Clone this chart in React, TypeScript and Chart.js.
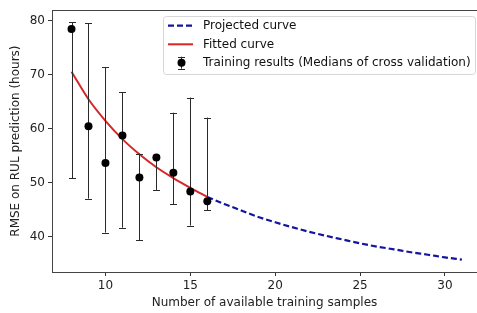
import React, { useEffect, useRef } from "react";
import { Chart, registerables } from "chart.js";

Chart.register(...registerables);

// ---- data ----
const trainX = [8, 9, 10, 11, 12, 13, 14, 15, 16];
const trainMedian = [78.5, 60.5, 53.7, 58.8, 51.0, 54.7, 51.9, 48.4, 46.6];
const trainLower = [50.9, 47.1, 40.8, 41.7, 39.4, 48.7, 46.0, 42.1, 44.9];
const trainUpper = [79.8, 79.6, 71.4, 66.8, 55.4, 55.2, 63.0, 65.8, 62.1];

const fittedX = [8, 9, 10, 11, 12, 13, 14, 15, 16];
const fittedY = [70.6, 65.5, 61.5, 58.1, 55.3, 52.9, 50.9, 49.1, 47.4];

const projectedX = [16, 17, 18, 19, 20, 21, 22, 23, 24, 25, 26, 27, 28, 29, 30, 31];
const projectedY = [47.4, 46.1, 44.9, 43.7, 42.7, 41.8, 40.95, 40.2, 39.5, 38.8, 38.2, 37.7, 37.15, 36.7, 36.2, 35.8];

const xTicks = [10, 15, 20, 25, 30];
const yTicks = [40, 50, 60, 70, 80];

const labels = {
  projected: "Projected curve",
  fitted: "Fitted curve",
  training: "Training results (Medians of cross validation)",
  xTitle: "Number of available training samples",
  yTitle: "RMSE on RUL prediction (hours)",
};

const FONT = "'DejaVu Sans', sans-serif";
const BLUE = "#14149e";
const RED = "#d62728";
const BAR = "#2a2a2a";

const errorBarPlugin = {
  id: "errorBars",
  beforeDatasetDraw(chart: any, args: any) {
    if (args.index !== 2) return;
    const { ctx, scales } = chart;
    const xs = scales.x;
    const ys = scales.y;
    ctx.save();
    ctx.strokeStyle = BAR;
    ctx.lineWidth = 1;
    for (let i = 0; i < trainX.length; i++) {
      const px = Math.round(xs.getPixelForValue(trainX[i])) + 0.5;
      const yl = ys.getPixelForValue(trainLower[i]);
      const yu = ys.getPixelForValue(trainUpper[i]);
      ctx.beginPath();
      ctx.moveTo(px, yl);
      ctx.lineTo(px, yu);
      ctx.moveTo(px - 3.5, Math.round(yl) + 0.5);
      ctx.lineTo(px + 3.5, Math.round(yl) + 0.5);
      ctx.moveTo(px - 3.5, Math.round(yu) + 0.5);
      ctx.lineTo(px + 3.5, Math.round(yu) + 0.5);
      ctx.stroke();
    }
    ctx.restore();
  },
};

const framePlugin = {
  id: "frame",
  afterDraw(chart: any) {
    const { ctx, chartArea } = chart;
    ctx.save();
    ctx.strokeStyle = "#444";
    ctx.lineWidth = 1;
    ctx.beginPath();
    ctx.moveTo(chartArea.left, Math.round(chartArea.top) + 0.5);
    ctx.lineTo(chartArea.right, Math.round(chartArea.top) + 0.5);
    ctx.stroke();
    ctx.restore();
  },
};

const legendPlugin = {
  id: "boxLegend",
  afterDraw(chart: any) {
    const { ctx } = chart;
    const ds = chart.data.datasets;
    const left = 163.5, top = 16.5, right = 475.5, bottom = 74.5;
    ctx.save();
    ctx.beginPath();
    const r = 3;
    ctx.moveTo(left + r, top);
    ctx.lineTo(right - r, top);
    ctx.quadraticCurveTo(right, top, right, top + r);
    ctx.lineTo(right, bottom - r);
    ctx.quadraticCurveTo(right, bottom, right - r, bottom);
    ctx.lineTo(left + r, bottom);
    ctx.quadraticCurveTo(left, bottom, left, bottom - r);
    ctx.lineTo(left, top + r);
    ctx.quadraticCurveTo(left, top, left + r, top);
    ctx.closePath();
    ctx.fillStyle = "rgba(255,255,255,0.8)";
    ctx.fill();
    ctx.strokeStyle = "#d6d6d6";
    ctx.lineWidth = 1;
    ctx.stroke();

    const rows = [25.7, 44.3, 62.7];
    const x0 = 168, x1 = 193, tx = 203;
    ctx.font = `12px ${FONT}`;
    ctx.textBaseline = "middle";
    ctx.textAlign = "left";
    ds.forEach((d: any, i: number) => {
      const y = rows[i];
      if (i < 2) {
        ctx.beginPath();
        ctx.strokeStyle = d.borderColor;
        ctx.lineWidth = d.borderWidth;
        ctx.setLineDash(d.borderDash || []);
        ctx.moveTo(x0, y);
        ctx.lineTo(x1, y);
        ctx.stroke();
        ctx.setLineDash([]);
      } else {
        const cx = 181.5;
        ctx.beginPath();
        ctx.strokeStyle = BAR;
        ctx.lineWidth = 1;
        ctx.moveTo(cx, y - 6);
        ctx.lineTo(cx, y + 6);
        ctx.moveTo(cx - 3.5, Math.round(y - 6) + 0.5);
        ctx.lineTo(cx + 3.5, Math.round(y - 6) + 0.5);
        ctx.moveTo(cx - 3.5, Math.round(y + 6) + 0.5);
        ctx.lineTo(cx + 3.5, Math.round(y + 6) + 0.5);
        ctx.stroke();
        ctx.beginPath();
        ctx.fillStyle = "#000";
        ctx.arc(cx, y, 4, 0, Math.PI * 2);
        ctx.fill();
      }
      ctx.fillStyle = "#111";
      ctx.fillText(d.label, tx, y + 0.5);
    });
    ctx.restore();
  },
};

export default function App() {
  const ref = useRef<HTMLCanvasElement | null>(null);

  useEffect(() => {
    if (!ref.current) return;
    const chart = new Chart(ref.current, {
      type: "line",
      data: {
        datasets: [
          {
            label: labels.projected,
            data: projectedX.map((x, i) => ({ x, y: projectedY[i] })),
            borderColor: BLUE,
            borderWidth: 2.2,
            borderDash: [6, 3],
            pointRadius: 0,
            cubicInterpolationMode: "monotone",
            fill: false,
            order: 2,
          },
          {
            label: labels.fitted,
            data: fittedX.map((x, i) => ({ x, y: fittedY[i] })),
            borderColor: RED,
            borderWidth: 2,
            pointRadius: 0,
            cubicInterpolationMode: "monotone",
            fill: false,
            order: 1,
          },
          {
            label: labels.training,
            data: trainX.map((x, i) => ({ x, y: trainMedian[i] })),
            showLine: false,
            pointRadius: 4,
            pointBackgroundColor: "#000",
            pointBorderColor: "#000",
            pointBorderWidth: 0,
            borderColor: "#000",
            order: 0,
          },
        ],
      },
      options: {
        responsive: false,
        animation: false,
        events: [],
        layout: { autoPadding: false, padding: { left: 0, top: 10, right: 0, bottom: 0 } },
        plugins: {
          legend: { display: false },
          tooltip: { enabled: false },
          title: { display: false },
        },
        scales: {
          x: {
            type: "linear",
            min: 6.85,
            max: 31.89,
            afterBuildTicks: (s: any) => {
              s.ticks = xTicks.map((v) => ({ value: v }));
            },
            afterFit: (s: any) => {
              s.height = 41;
            },
            grid: {
              display: true,
              drawOnChartArea: false,
              drawTicks: true,
              tickLength: 4,
              color: "#333",
            },
            border: { display: true, color: "#444", width: 1 },
            ticks: {
              font: { family: FONT, size: 12 },
              color: "#222",
              padding: 3,
              maxRotation: 0,
              autoSkip: false,
            },
            title: {
              display: true,
              text: labels.xTitle,
              font: { family: FONT, size: 12 },
              color: "#222",
              padding: { top: 0, bottom: 3 },
            },
          },
          y: {
            type: "linear",
            min: 33.5,
            max: 81.98,
            afterBuildTicks: (s: any) => {
              s.ticks = yTicks.map((v) => ({ value: v }));
            },
            afterFit: (s: any) => {
              s.width = 52;
            },
            grid: {
              display: true,
              drawOnChartArea: false,
              drawTicks: true,
              tickLength: 4,
              color: "#333",
            },
            border: { display: true, color: "#444", width: 1 },
            ticks: {
              font: { family: FONT, size: 12 },
              color: "#222",
              padding: 3,
              autoSkip: false,
            },
            title: {
              display: true,
              text: labels.yTitle,
              font: { family: FONT, size: 12 },
              color: "#222",
              padding: { top: 9, bottom: 0 },
            },
          },
        },
      },
      plugins: [errorBarPlugin, framePlugin, legendPlugin],
    } as any);
    return () => chart.destroy();
  }, []);

  return (
    <div style={{ position: "absolute", left: 0, top: 0, width: 477, height: 313, background: "#fff" }}>
      <canvas ref={ref} width={477} height={313} style={{ display: "block" }} />
    </div>
  );
}
